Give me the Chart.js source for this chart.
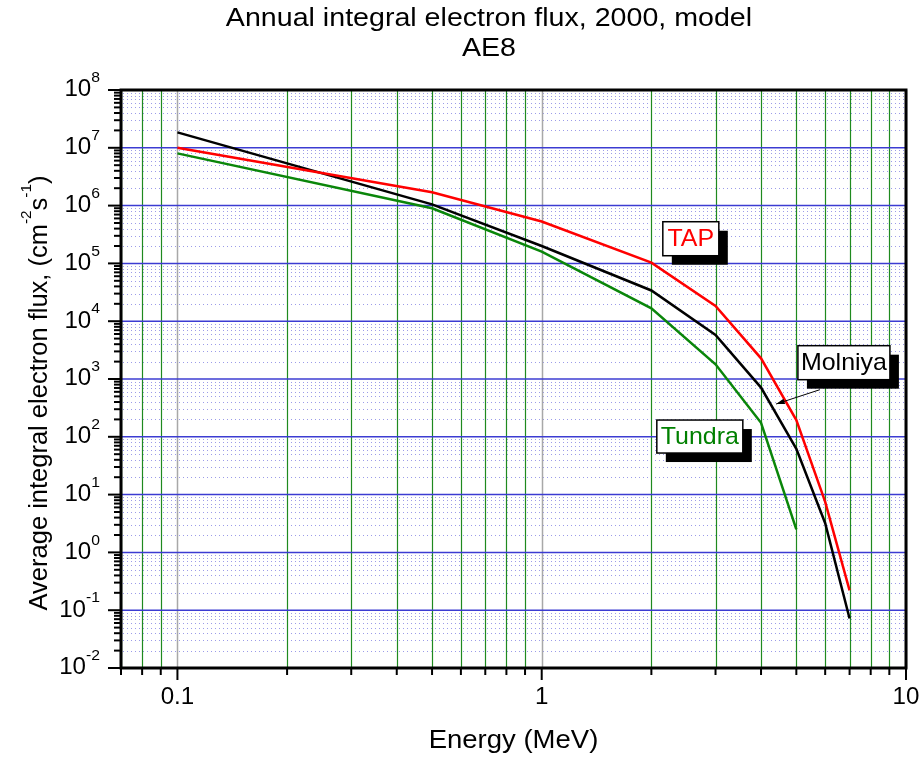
<!DOCTYPE html>
<html>
<head>
<meta charset="utf-8">
<title>Annual integral electron flux, 2000, model AE8</title>
<script src="https://cdn.jsdelivr.net/npm/chart.js@4.4.1/dist/chart.umd.min.js"></script>
<style>
  html, body { margin: 0; padding: 0; background: #fff; }
  #wrap { width: 922px; height: 757px; }
</style>
</head>
<body>
<div id="wrap"><canvas id="flux" width="922" height="757"></canvas></div>
<script>
// energies (MeV) and orbit fluxes (cm^-2 s^-1)
const energy = [0.1, 0.5, 1, 2, 3, 4, 5, 6, 7];
const tapFlux = [1.0e7, 1.7e6, 5.3e5, 1.03e5, 1.83e4, 2.28e3, 195, 7.5, 0.22];
const molniyaFlux = [1.85e7, 1.05e6, 2.0e5, 3.4e4, 5.8e3, 710, 62, 3.2, 0.072];
const tundraFlux = [8.0e6, 9.0e5, 1.6e5, 1.67e4, 1.8e3, 175, 2.5];

// axis ticks
const xMajor = [0.1, 1, 10];
const xLabels = ['0.1', '1', '10'];
const yExponents = [-2, -1, 0, 1, 2, 3, 4, 5, 6, 7, 8];

const FONT = '"Liberation Sans", Arial, sans-serif';

function pts(vals) {
    return vals.map((v, i) => ({ x: energy[i], y: v }));
}

// text made of plain and superscript runs, k = horizontal stretch
function drawRuns(ctx, runs, x, y, size, supSize, align, k) {
    k = k || 1;
    let w = 0;
    runs.forEach(r => {
        ctx.font = (r.sup ? supSize : size) + 'px ' + FONT;
        r.w = ctx.measureText(r.t).width;
        w += r.w;
    });
    const start = align === 'right' ? x - w * k : align === 'center' ? x - w * k / 2 : x;
    ctx.save();
    ctx.translate(start, y);
    ctx.scale(k, 1);
    ctx.textAlign = 'left';
    ctx.textBaseline = 'middle';
    let cx = 0;
    runs.forEach(r => {
        ctx.font = (r.sup ? supSize : size) + 'px ' + FONT;
        ctx.fillText(r.t, cx, r.sup ? -size * 0.52 : 0);
        cx += r.w;
    });
    ctx.restore();
}

function minorValues(lo, hi) {
    const out = [];
    for (let e = Math.floor(Math.log10(lo)); e < Math.ceil(Math.log10(hi)); e++) {
        for (let m = 2; m <= 9; m++) {
            const v = m * Math.pow(10, e);
            if (v >= lo && v <= hi) out.push(v);
        }
    }
    return out;
}

const gridPlugin = {
    id: 'logGrid',
    beforeDatasetsDraw(chart) {
        const { ctx, chartArea: a, scales: { x, y } } = chart;
        ctx.save();
        // dotted minor rows
        ctx.setLineDash([1, 3]);
        ctx.strokeStyle = '#9c9ce8';
        ctx.lineWidth = 1;
        minorValues(y.min, y.max).forEach(v => {
            const py = Math.round(y.getPixelForValue(v)) + 0.5;
            ctx.beginPath(); ctx.moveTo(a.left + 2, py); ctx.lineTo(a.right, py); ctx.stroke();
        });
        ctx.setLineDash([]);
        // vertical lines
        ctx.strokeStyle = '#1f8a1f';
        ctx.lineWidth = 1.2;
        minorValues(x.min, x.max).forEach(v => {
            const px = Math.round(x.getPixelForValue(v)) + 0.5;
            ctx.beginPath(); ctx.moveTo(px, a.top); ctx.lineTo(px, a.bottom); ctx.stroke();
        });
        ctx.strokeStyle = '#a8a8a8';
        ctx.lineWidth = 1.5;
        xMajor.forEach(v => {
            const px = Math.round(x.getPixelForValue(v)) + 0.5;
            ctx.beginPath(); ctx.moveTo(px, a.top); ctx.lineTo(px, a.bottom); ctx.stroke();
        });
        // decade rows
        ctx.strokeStyle = '#3c3cd2';
        ctx.lineWidth = 1.5;
        yExponents.forEach(e => {
            const py = y.getPixelForValue(Math.pow(10, e));
            ctx.beginPath(); ctx.moveTo(a.left, py); ctx.lineTo(a.right, py); ctx.stroke();
        });
        ctx.restore();
    },
    afterDatasetsDraw(chart) {
        const { ctx, chartArea: a, scales: { x, y } } = chart;
        ctx.save();
        // frame
        ctx.strokeStyle = '#000';
        ctx.lineWidth = 3;
        ctx.strokeRect(a.left, a.top, a.right - a.left, a.bottom - a.top);

        // y ticks, outside
        ctx.lineWidth = 2;
        minorValues(y.min, y.max).forEach(v => {
            const py = y.getPixelForValue(v);
            ctx.beginPath(); ctx.moveTo(a.left - 7, py); ctx.lineTo(a.left, py); ctx.stroke();
        });
        yExponents.forEach(e => {
            const py = y.getPixelForValue(Math.pow(10, e));
            ctx.beginPath(); ctx.moveTo(a.left - 13, py); ctx.lineTo(a.left, py); ctx.stroke();
        });
        // x ticks, outside
        minorValues(x.min, x.max).forEach(v => {
            const px = x.getPixelForValue(v);
            ctx.beginPath(); ctx.moveTo(px, a.bottom); ctx.lineTo(px, a.bottom + 7); ctx.stroke();
        });
        xMajor.forEach(v => {
            const px = x.getPixelForValue(v);
            ctx.beginPath(); ctx.moveTo(px, a.bottom); ctx.lineTo(px, a.bottom + 12); ctx.stroke();
        });

        // tick labels
        ctx.fillStyle = '#000';
        yExponents.forEach(e => {
            const py = y.getPixelForValue(Math.pow(10, e));
            drawRuns(ctx, [{ t: '10' }, { t: String(e), sup: true }], a.left - 21, py, 23, 15, 'right', 1.05);
        });
        xMajor.forEach((v, i) => {
            drawRuns(ctx, [{ t: xLabels[i] }], x.getPixelForValue(v), a.bottom + 30, 23, 15, 'center', 1.05);
        });

        // axis titles
        drawRuns(ctx, [{ t: 'Energy (MeV)' }], (a.left + a.right) / 2, 741, 25, 15, 'center', 1.1);
        ctx.save();
        ctx.translate(40, 393);
        ctx.rotate(-Math.PI / 2);
        drawRuns(ctx, [
            { t: 'Average integral electron flux, (cm' }, { t: '-2', sup: true },
            { t: 's' }, { t: '-1', sup: true }, { t: ')' }
        ], 0, 0, 25, 15, 'center', 1.02);
        ctx.restore();

        // chart title
        drawRuns(ctx, [{ t: 'Annual integral electron flux, 2000, model' }], 489, 19, 26, 15, 'center', 1.1);
        drawRuns(ctx, [{ t: 'AE8' }], 489, 49, 26, 15, 'center', 1.1);

        // orbit name boxes with drop shadow
        notes.forEach(n => {
            const bx = x.getPixelForValue(n.e);
            const by = y.getPixelForValue(n.f);
            ctx.fillStyle = '#000';
            ctx.fillRect(bx + 9, by + 9, n.w, n.h);
            ctx.fillStyle = '#fff';
            ctx.fillRect(bx, by, n.w, n.h);
            ctx.lineWidth = 1.5;
            ctx.strokeRect(bx, by, n.w, n.h);
            ctx.fillStyle = n.color;
            drawRuns(ctx, [{ t: n.text }], bx + n.w / 2, by + n.h / 2 + 1, 24, 14, 'center', 1.04);
            if (n.arrowTo) {
                const tx = x.getPixelForValue(n.arrowTo[0]);
                const ty = y.getPixelForValue(n.arrowTo[1]);
                const sx = bx + 22, sy = by + n.h + 10;
                ctx.strokeStyle = '#000';
                ctx.lineWidth = 1;
                ctx.beginPath(); ctx.moveTo(sx, sy); ctx.lineTo(tx, ty); ctx.stroke();
                const ang = Math.atan2(ty - sy, tx - sx);
                ctx.fillStyle = '#000';
                ctx.beginPath();
                ctx.moveTo(tx, ty);
                ctx.lineTo(tx - 9 * Math.cos(ang - 0.3), ty - 9 * Math.sin(ang - 0.3));
                ctx.lineTo(tx - 9 * Math.cos(ang + 0.3), ty - 9 * Math.sin(ang + 0.3));
                ctx.closePath();
                ctx.fill();
            }
        });
        ctx.restore();
    }
};

// label boxes placed at (energy, flux) of their top-left corner
const notes = [
    { text: 'TAP', color: '#ff0000', e: 2.15, f: 5.26e5, w: 56, h: 34 },
    { text: 'Tundra', color: '#008000', e: 2.07, f: 195, w: 86, h: 33 },
    { text: 'Molniya', color: '#000000', e: 5.05, f: 3.77e3, w: 92, h: 34, arrowTo: [4.4, 369] }
];

new Chart(document.getElementById('flux'), {
    type: 'line',
    data: {
        datasets: [
            { label: 'TAP', data: pts(tapFlux), borderColor: '#ff0000', borderWidth: 2.5 },
            { label: 'Molniya', data: pts(molniyaFlux), borderColor: '#000000', borderWidth: 2.5 },
            { label: 'Tundra', data: pts(tundraFlux), borderColor: '#0a860a', borderWidth: 2.5 }
        ]
    },
    options: {
        responsive: false,
        animation: false,
        layout: { padding: { left: 121, top: 90, right: 16, bottom: 89 } },
        elements: { point: { radius: 0 }, line: { tension: 0 } },
        plugins: { legend: { display: false }, tooltip: { enabled: false } },
        scales: {
            x: { type: 'logarithmic', min: 0.07, max: 10, display: false },
            y: { type: 'logarithmic', min: 0.01, max: 1e8, display: false }
        }
    },
    plugins: [gridPlugin]
});
</script>
</body>
</html>
